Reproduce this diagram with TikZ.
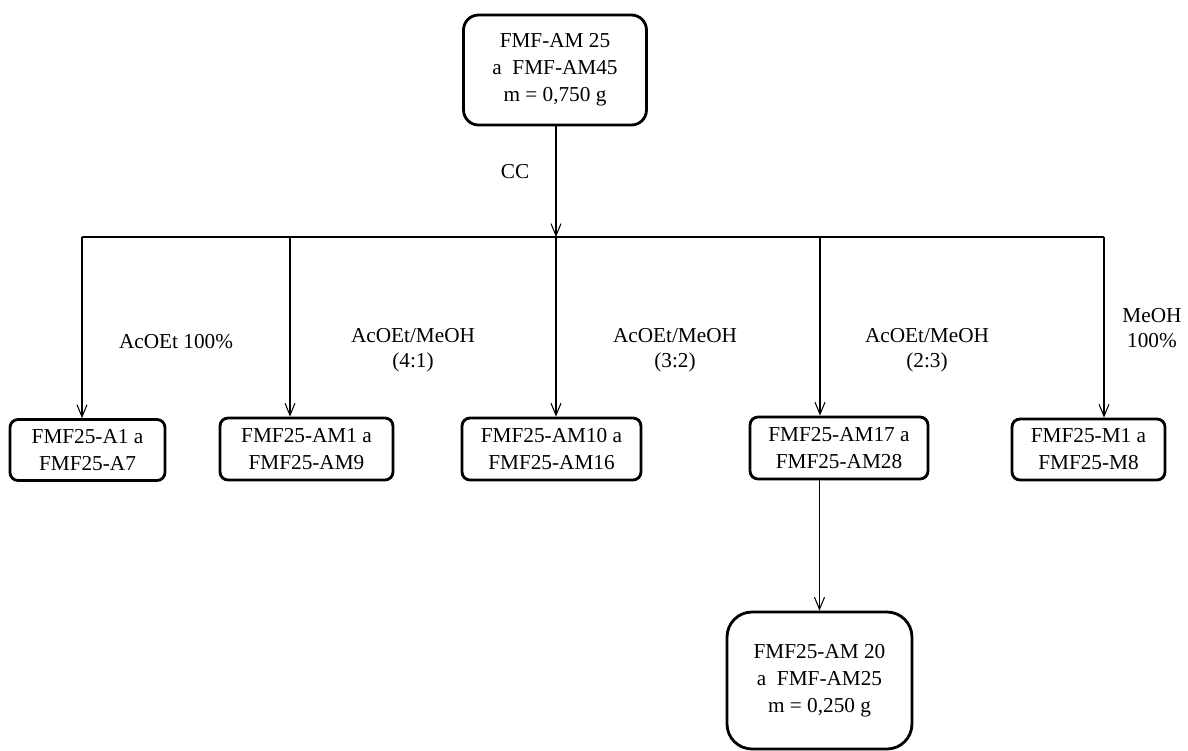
\documentclass[tikz,border=0pt]{standalone}
\usepackage{fontspec}
\setmainfont{Liberation Serif}
\usetikzlibrary{arrows.meta}

\begin{document}
\begin{tikzpicture}[x=0.02cm, y=-0.02cm,
		every node/.style={font=\fontsize{12.1}{14.2}\selectfont, align=center},
		box/.style={draw, line width=1.6pt, rounded corners=.16cm, inner sep=0pt, font=\fontsize{12.1}{15.3}\selectfont},
		fl/.style={-{Straight Barb[length=.24cm, width=.2cm]}, line width=.6pt}]
		\useasboundingbox (0,0) rectangle (1188,751);
		%Ausgangsfraktion
		\node (top) [box, rounded corners=.3cm, minimum width=3.66cm, minimum height=2.2cm] at (555,70) {FMF-AM 25\\a\ \ FMF-AM45\\m = 0,750 g};
		\coordinate (split) at (556,237);
		\draw[fl] (top.south -| split) to (split);
		\node (cc) at (515,172) {CC};
		\draw[line width=1.1pt] (82,237) coordinate (d1) to (1104,237) coordinate (d5);
		\coordinate (d2) at (290,237);
		\coordinate (d3) at (556,237);
		\coordinate (d4) at (820,237);
		%Fraktionen
		\node (f1) [box, minimum width=3.1cm, minimum height=1.22cm] at (87.5,450) {FMF25-A1 a\\FMF25-A7};
		\node (f2) [box, minimum width=3.46cm, minimum height=1.24cm] at (306.5,449) {FMF25-AM1 a\\FMF25-AM9};
		\node (f3) [box, minimum width=3.58cm, minimum height=1.24cm] at (551.5,449) {FMF25-AM10 a\\FMF25-AM16};
		\node (f4) [box, minimum width=3.56cm, minimum height=1.24cm] at (839,448) {FMF25-AM17 a\\FMF25-AM28};
		\node (f5) [box, minimum width=3.06cm, minimum height=1.22cm] at (1088.5,449.5) {FMF25-M1 a\\FMF25-M8};
		\foreach \i in {1,...,5}
			\draw[fl] (d\i) to (d\i |- f\i.north);
		%Laufmittel
		\node (e1) at (176,342) {AcOEt 100\%};
		\node (e2) at (413,350) {AcOEt/MeOH\\(4:1)};
		\node (e3) at (675,350) {AcOEt/MeOH\\(3:2)};
		\node (e4) at (927,350) {AcOEt/MeOH\\(2:3)};
		\node (e5) at (1152,328) {MeOH\\100\%};
		%Unterfraktion
		\node (sub) [box, rounded corners=.5cm, minimum width=3.7cm, minimum height=2.74cm] at (819.5,680.5) {FMF25-AM 20\\a\ \ FMF-AM25\\m = 0,250 g};
		\draw[fl] (sub.north |- f4.south) to (sub.north);
	\end{tikzpicture}
\end{document}
